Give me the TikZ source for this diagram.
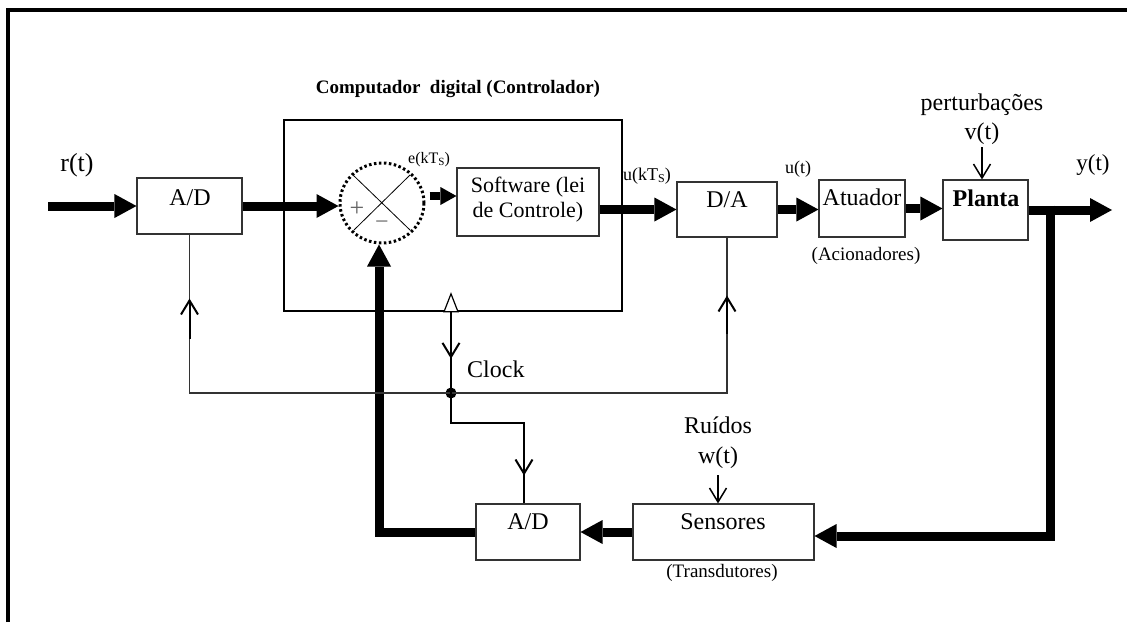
\documentclass[tikz,border=0pt]{standalone}
\usepackage{fontspec}
\setmainfont{Liberation Serif}
\usetikzlibrary{arrows.meta,calc,shapes.geometric}
\begin{document}
\begin{tikzpicture}[x=1pt,y=-1pt,
  box/.style={draw=black!80, line width=1.1pt, inner sep=0},
  fb/.style={line width=9pt, -{Triangle[length=22pt,width=24pt,line width=0pt]}},
  thn/.style={draw=black!80, line width=1.1pt},
  opn/.style={line width=2pt, -{Straight Barb[length=14pt,width=17pt,line width=2pt]}},
  txt/.style={inner sep=0, anchor=base, font=\fontsize{24}{28}\selectfont},
  stxt/.style={txt, font=\fontsize{19}{22}\selectfont},
  mtxt/.style={txt, font=\fontsize{18}{21}\selectfont}
]
\useasboundingbox (0,0) rectangle (1127,622);
% frame
\draw[line width=3.5pt] (8,622) -- (8,10) -- (1127,10);

% boxes
\node[box, minimum width=105pt, minimum height=56pt] (ad1) at (189.5,206) {};
\node[box, draw=black, line width=1.6pt, minimum width=338pt, minimum height=191pt] (comp) at (453,215.5) {};
\node[box, minimum width=142pt, minimum height=68pt] (sw) at (528,202) {};
\node[box, minimum width=100pt, minimum height=55pt] (da) at (727,209.5) {};
\node[box, minimum width=86pt, minimum height=57pt] (at) at (862,208.5) {};
\node[box, minimum width=85pt, minimum height=60pt] (pl) at (985.5,210) {};
\node[box, minimum width=104pt, minimum height=56pt] (ad2) at (528,532) {};
\node[box, minimum width=181pt, minimum height=56pt] (sen) at (723.5,532) {};

% summing junction
\node[ellipse, draw, line width=3pt, dash pattern=on 2.5pt off 2.5pt, minimum width=84pt, minimum height=80pt, inner sep=0] (sum) at (382,203) {};
\draw[line width=0.8pt] (353,175) -- (410,230);
\draw[line width=0.8pt] (410,175) -- (354,230);
\node[inner sep=0, text=black!60, font=\fontsize{26}{28}\selectfont] (plus) at (357,209) {+};
\node[inner sep=0, text=black!60, font=\fontsize{24}{28}\selectfont] (minus) at (382,225) {−};

% texts
\node[txt, font=\fontsize{26}{30}\selectfont] (rt) at (77,171) {r(t)};
\node[txt] (ad1t) at (190,205) {A/D};
\node[txt, font=\fontsize{19}{22}\selectfont\bfseries] (title) at (458,93) {Computador\ \ digital (Controlador)};
\node[txt, anchor=base west, font=\fontsize{16}{18}\selectfont] (ek) at (408,163) {e(kT\raisebox{-2pt}{\fontsize{11}{12}\selectfont S})};
\node[txt, font=\fontsize{22}{26}\selectfont] (sw1) at (528,192) {Software (lei};
\node[txt, font=\fontsize{22}{26}\selectfont] (sw2) at (528,217) {de Controle)};
\node[mtxt, anchor=base west] (uk) at (623,180) {u(kT\raisebox{-2pt}{\fontsize{12}{13}\selectfont S})};
\node[txt] (dat) at (727,207) {D/A};
\node[mtxt] (ut) at (798,173) {u(t)};
\node[txt] (att) at (862,205) {Atuador};
\node[stxt] (acio) at (866,260) {(Acionadores)};
\node[txt, font=\fontsize{24}{28}\selectfont\bfseries] (plt) at (986,206) {Planta};
\node[txt] (pert) at (982,110) {perturbações};
\node[txt] (vt) at (982,139) {v(t)};
\node[txt, font=\fontsize{23}{27}\selectfont] (yt) at (1093,170) {y(t)};
\node[txt, anchor=base west] (clk) at (467,377) {Clock};
\node[txt] (rui) at (718,433) {Ruídos};
\node[txt] (wt) at (718,463) {w(t)};
\node[txt] (ad2t) at (528,529) {A/D};
\node[txt] (sent) at (723,529) {Sensores};
\node[stxt] (trans) at (722,577) {(Transdutores)};

% thick signal path
\coordinate (rin) at (48,206);
\coordinate (yout) at (1112,210);
\coordinate (tap) at (1050,205.5);
\draw[fb] (rin) -- (ad1.west);
\draw[fb] (ad1.east) -- (ad1.east -| sum.west);
\draw[line width=8pt, -{Triangle[length=16pt,width=18pt,line width=0pt]}] ([xshift=4pt,yshift=7pt]sum.east) -- ([yshift=6pt]sw.west);
\draw[fb] (sw.east |- da.west) -- (da.west);
\draw[fb] (da.east) -- (da.east -| at.west);
\draw[fb] (at.east) -- (at.east -| pl.west);
\draw[fb] (pl.east) -- (yout);
\draw[fb] (tap) |- ([yshift=-4pt]sen.east);
\draw[fb] (sen.west) -- (ad2.east);
\draw[fb] (ad2.west) -| ([xshift=-3pt]sum.south);

% clock network
\node[circle, fill, minimum size=11pt, inner sep=0] (dot) at (451,393) {};
\draw[thn] (ad1.south) -- (ad1.south |- dot.center) -- (da.south |- dot.center) -- (da.south);
\draw[thn, draw=black] (dot.center) -- (dot.center |- comp.south);
\draw[opn] (dot.center |- comp.south) -- ++(0,47);
\draw[fill=white, line width=1.2pt] ($(dot.center |- comp.south)+(-7,0)$) -- ++(7,-18) -- ++(7,18) -- cycle;
\draw[opn] ($(ad1.south)+(0,104)$) -- ($(ad1.south)+(0,64)$);
\draw[opn] ($(da.south)+(0,96)$) -- ($(da.south)+(0,58)$);
\draw[thn, draw=black, line width=1.5pt] (dot.center) -- ++(0,30) -| ([xshift=-4pt]ad2.north);
\draw[opn] ($(ad2.north)+(-4,-56)$) -- ($(ad2.north)+(-4,-28)$);

% disturbances
\draw[line width=1.5pt, -{Straight Barb[length=14pt,width=17pt,line width=1.5pt]}] ([yshift=-8pt]vt.base) -- (vt.base |- pl.north);
\draw[line width=1.5pt, -{Straight Barb[length=14pt,width=17pt,line width=1.5pt]}] ([yshift=-12pt]wt.base) -- (wt.base |- sen.north);
\end{tikzpicture}
\end{document}
